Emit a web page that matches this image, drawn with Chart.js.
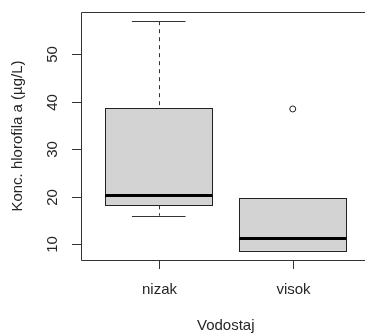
<!DOCTYPE html>
<html>
<head>
<meta charset="utf-8">
<script src="https://cdn.jsdelivr.net/npm/chart.js@4/dist/chart.umd.min.js"></script>
<style>
  html, body { margin: 0; padding: 0; background: #fff; overflow: hidden; }
  #wrap { width: 365px; height: 333px; }
</style>
</head>
<body>
<div id="wrap"><canvas id="c" width="365" height="333"></canvas></div>
<script>
// Chlorophyll-a concentration by water level: five-number summaries per group
const categories   = ['nizak', 'visok'];
const lowerWhisker = [16.0, 8.6];
const q1           = [18.2, 8.6];
const median       = [20.25, 11.2];
const q3           = [38.7, 19.7];
const upperWhisker = [57.0, 19.7];
const outliers     = [[], [38.5]];
const yTicks       = [10, 20, 30, 40, 50];
const xTitle = 'Vodostaj';
const yTitle = 'Konc. hlorofila a (µg/L)';

const FONT = '15px "Liberation Sans", Arial, sans-serif';
const INK = '#262626';

const outlierPoints = [];
outliers.forEach((list, i) => list.forEach(v => outlierPoints.push({ x: i + 1, y: v })));

// Box, whiskers and medians drawn through the chart's scales
const boxPlot = {
  id: 'boxPlot',
  beforeDatasetsDraw(chart) {
    const { ctx, scales: { x, y } } = chart;
    const half = 0.4, capHalf = 0.2;
    ctx.save();
    categories.forEach((c, i) => {
      const pos = i + 1;
      const xl = x.getPixelForValue(pos - half);
      const xr = x.getPixelForValue(pos + half);
      const xc = Math.round(x.getPixelForValue(pos)) + 0.5;
      const cl = x.getPixelForValue(pos - capHalf);
      const cr = x.getPixelForValue(pos + capHalf);
      const yq1 = y.getPixelForValue(q1[i]);
      const yq3 = y.getPixelForValue(q3[i]);
      const ylo = y.getPixelForValue(lowerWhisker[i]);
      const yhi = y.getPixelForValue(upperWhisker[i]);
      const ymed = y.getPixelForValue(median[i]);

      // whiskers (dashed) and caps
      ctx.strokeStyle = '#333';
      ctx.lineWidth = 1;
      ctx.setLineDash([4, 4]);
      ctx.beginPath();
      if (yhi < yq3) { ctx.moveTo(xc, yhi); ctx.lineTo(xc, yq3); }
      if (ylo > yq1) { ctx.moveTo(xc, yq1); ctx.lineTo(xc, ylo); }
      ctx.stroke();
      ctx.setLineDash([]);
      ctx.beginPath();
      ctx.moveTo(cl, Math.round(yhi) + 0.5); ctx.lineTo(cr, Math.round(yhi) + 0.5);
      ctx.moveTo(cl, Math.round(ylo) + 0.5); ctx.lineTo(cr, Math.round(ylo) + 0.5);
      ctx.stroke();

      // box
      ctx.fillStyle = '#d3d3d3';
      ctx.fillRect(xl, yq3, xr - xl, yq1 - yq3);
      ctx.strokeStyle = '#222';
      ctx.lineWidth = 1;
      ctx.strokeRect(Math.round(xl) + 0.5, Math.round(yq3) + 0.5,
                     Math.round(xr - xl), Math.round(yq1 - yq3));

      // median
      ctx.strokeStyle = '#000';
      ctx.lineWidth = 3;
      ctx.beginPath();
      ctx.moveTo(xl, ymed); ctx.lineTo(xr, ymed);
      ctx.stroke();
    });
    ctx.restore();
  },
  afterDraw(chart) {
    const { ctx, chartArea: a, scales: { x, y } } = chart;
    ctx.save();
    ctx.strokeStyle = '#333';
    ctx.lineWidth = 1;
    // plot frame
    ctx.beginPath();
    ctx.moveTo(a.right + 1, a.top + 0.5);
    ctx.lineTo(a.left + 0.5, a.top + 0.5);
    ctx.lineTo(a.left + 0.5, a.bottom + 0.5);
    ctx.lineTo(a.right + 1, a.bottom + 0.5);
    ctx.stroke();

    ctx.fillStyle = INK;
    ctx.font = FONT;

    // y ticks and rotated labels
    yTicks.forEach(t => {
      const py = Math.round(y.getPixelForValue(t)) + 0.5;
      ctx.beginPath();
      ctx.moveTo(a.left - 9, py); ctx.lineTo(a.left, py);
      ctx.stroke();
      ctx.save();
      ctx.translate(a.left - 28, py);
      ctx.rotate(-Math.PI / 2);
      ctx.textAlign = 'center';
      ctx.textBaseline = 'middle';
      ctx.fillText(String(t), 0, 0);
      ctx.restore();
    });

    // x ticks and labels
    categories.forEach((c, i) => {
      const px = Math.round(x.getPixelForValue(i + 1)) + 0.5;
      ctx.beginPath();
      ctx.moveTo(px, a.bottom); ctx.lineTo(px, a.bottom + 9);
      ctx.stroke();
      ctx.textAlign = 'center';
      ctx.textBaseline = 'alphabetic';
      ctx.fillText(c, px, a.bottom + 34);
    });

    // axis titles
    ctx.textAlign = 'center';
    ctx.textBaseline = 'alphabetic';
    ctx.fillText(xTitle, (x.getPixelForValue(0.5) + x.getPixelForValue(2.5)) / 2, a.bottom + 70);
    ctx.save();
    ctx.translate(18, (a.top + a.bottom) / 2);
    ctx.rotate(-Math.PI / 2);
    ctx.textBaseline = 'middle';
    ctx.fillText(yTitle, 0, 0);
    ctx.restore();
    ctx.restore();
  }
};

new Chart(document.getElementById('c'), {
  type: 'scatter',
  data: {
    datasets: [{
      data: outlierPoints,
      pointStyle: 'circle',
      pointRadius: 3,
      pointBorderWidth: 1,
      pointBorderColor: '#222',
      pointBackgroundColor: 'rgba(0,0,0,0)'
    }]
  },
  options: {
    responsive: false,
    animation: false,
    layout: { autoPadding: false, padding: { left: 81, top: 12, right: 0, bottom: 73 } },
    plugins: { legend: { display: false }, tooltip: { enabled: false } },
    scales: {
      x: { type: 'linear', min: 0.42, max: 2.539, display: false },
      y: { type: 'linear', min: 6.66, max: 58.94, display: false }
    }
  },
  plugins: [boxPlot]
});
</script>
</body>
</html>
